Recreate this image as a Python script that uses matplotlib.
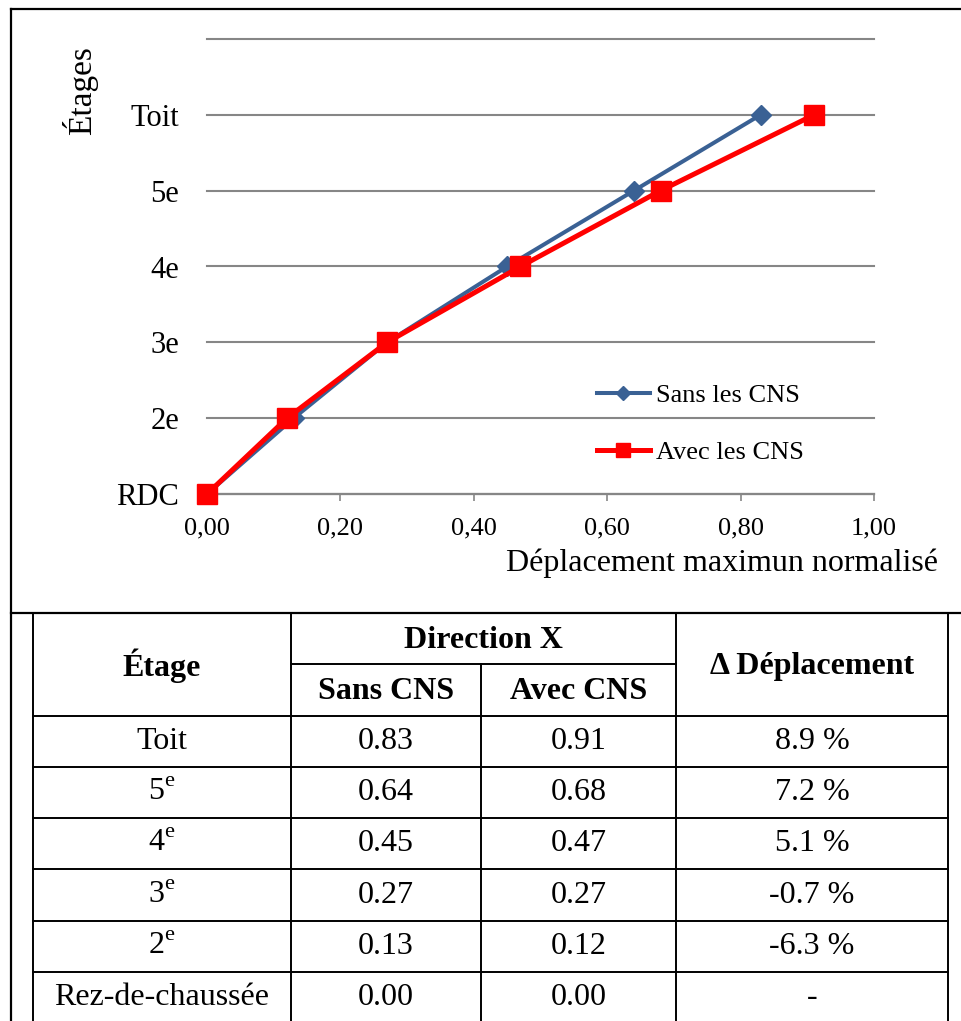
import matplotlib
matplotlib.use("Agg")
import matplotlib.pyplot as plt
from matplotlib.ticker import FuncFormatter

plt.rcParams["font.family"] = ["Liberation Serif", "DejaVu Serif"]
plt.rcParams["mathtext.fontset"] = "custom"
plt.rcParams["mathtext.rm"] = "Liberation Serif"

# Données (déplacement normalisé par étage, de RDC à Toit)
etages_axe = ["RDC", "2e", "3e", "4e", "5e", "Toit"]
sans_cns = [0.00, 0.13, 0.27, 0.45, 0.64, 0.83]
avec_cns = [0.00, 0.12, 0.27, 0.47, 0.68, 0.91]

# Tableau (de Toit à RDC)
etages_tab = ["Toit", "5$^{\\mathrm{e}}$", "4$^{\\mathrm{e}}$", "3$^{\\mathrm{e}}$",
              "2$^{\\mathrm{e}}$", "Rez-de-chaussée"]
sans_tab = ["0.83", "0.64", "0.45", "0.27", "0.13", "0.00"]
avec_tab = ["0.91", "0.68", "0.47", "0.27", "0.12", "0.00"]
delta_tab = ["8.9 %", "7.2 %", "5.1 %", "-0.7 %", "-6.3 %", "-"]

W, H = 961, 1021
fig = plt.figure(figsize=(W / 100, H / 100), dpi=100)

# Fond en pixels pour le cadre et le tableau
bg = fig.add_axes([0, 0, 1, 1])
bg.set_xlim(0, W)
bg.set_ylim(H, 0)
bg.axis("off")

lw_cadre = 1.6
bg.plot([11, 11], [9, H + 5], color="k", lw=lw_cadre)
bg.plot([11, W + 5], [9, 9], color="k", lw=lw_cadre)
bg.plot([11, W + 5], [613, 613], color="k", lw=lw_cadre)

# Graphique
def px_to_fig(x0, y0, x1, y1):
    return [x0 / W, 1 - y1 / H, (x1 - x0) / W, (y1 - y0) / H]

ax = fig.add_axes(px_to_fig(207, 39, 874, 494))
ypos = list(range(len(etages_axe)))
ax.plot(sans_cns, ypos, color="#3A6194", lw=2.9, marker="D", ms=10,
        label="Sans les CNS", clip_on=False, zorder=3)
ax.plot(avec_cns, ypos, color="#FF0000", lw=3.6, marker="s", ms=14,
        label="Avec les CNS", clip_on=False, zorder=4)

ax.set_xlim(0, 1)
ax.set_ylim(0, 6)
ax.set_xticks([0, 0.2, 0.4, 0.6, 0.8, 1.0])
ax.xaxis.set_major_formatter(FuncFormatter(lambda v, p: f"{v:.2f}".replace(".", ",")))
ax.set_yticks(range(7))
ax.set_yticklabels(etages_axe + [""], fontsize=22)
ax.tick_params(axis="y", length=0, pad=20)
ax.tick_params(axis="x", length=5, width=1.2, color="#868686", labelsize=19, pad=12)
ax.grid(axis="y", color="#868686", lw=1.5)
for gl in ax.get_ygridlines():
    gl.set_clip_on(False)
ax.set_axisbelow(True)
for s in ["left", "right", "top"]:
    ax.spines[s].set_visible(False)
ax.spines["bottom"].set_color("#868686")
ax.spines["bottom"].set_linewidth(1.6)

ax.legend(loc="upper left", bbox_to_anchor=((597 - 207) / 667, (494 - 384) / 455),
          frameon=False, fontsize=19, handlelength=2.0, handletextpad=0.22,
          labelspacing=1.25, borderpad=0, borderaxespad=0, markerscale=0.75)

fig.text(80 / W, 1 - 91 / H, "Étages", rotation=90, ha="center", va="center", fontsize=24)
fig.text(938 / W, 1 - 563 / H, "Déplacement maximun normalisé", ha="right",
         va="center", fontsize=23)

# Tableau
cols = [33, 291, 481, 676, 948]
rows = [716, 767, 818, 869, 921, 972, 1023]
lw_tab = 1.4
bg.plot([cols[0], cols[-1]], [613, 613], color="k", lw=lw_tab)
bg.plot([cols[1], cols[3]], [664, 664], color="k", lw=lw_tab)
for y in rows:
    bg.plot([cols[0], cols[-1]], [y, y], color="k", lw=lw_tab)
for x in [cols[0], cols[1], cols[3], cols[4]]:
    bg.plot([x, x], [613, H + 5], color="k", lw=lw_tab)
bg.plot([cols[2], cols[2]], [664, H + 5], color="k", lw=lw_tab)

fs = 23
bg.text((cols[0] + cols[1]) / 2, 666, "Étage", ha="center", va="center",
        fontsize=fs, fontweight="bold")
bg.text((cols[1] + cols[3]) / 2, 640, "Direction X", ha="center", va="center",
        fontsize=fs, fontweight="bold")
bg.text((cols[1] + cols[2]) / 2, 691, "Sans CNS", ha="center", va="center",
        fontsize=fs, fontweight="bold")
bg.text((cols[2] + cols[3]) / 2, 691, "Avec CNS", ha="center", va="center",
        fontsize=fs, fontweight="bold")
bg.text((cols[3] + cols[4]) / 2, 666, "Δ Déplacement", ha="center", va="center",
        fontsize=fs, fontweight="bold")

for i in range(len(etages_tab)):
    yc = (rows[i] + rows[i + 1]) / 2
    for j, val in enumerate([etages_tab[i], sans_tab[i], avec_tab[i], delta_tab[i]]):
        bg.text((cols[j] + cols[j + 1]) / 2, yc, val, ha="center", va="center",
                fontsize=fs)

fig.savefig("out.png", dpi=100)
